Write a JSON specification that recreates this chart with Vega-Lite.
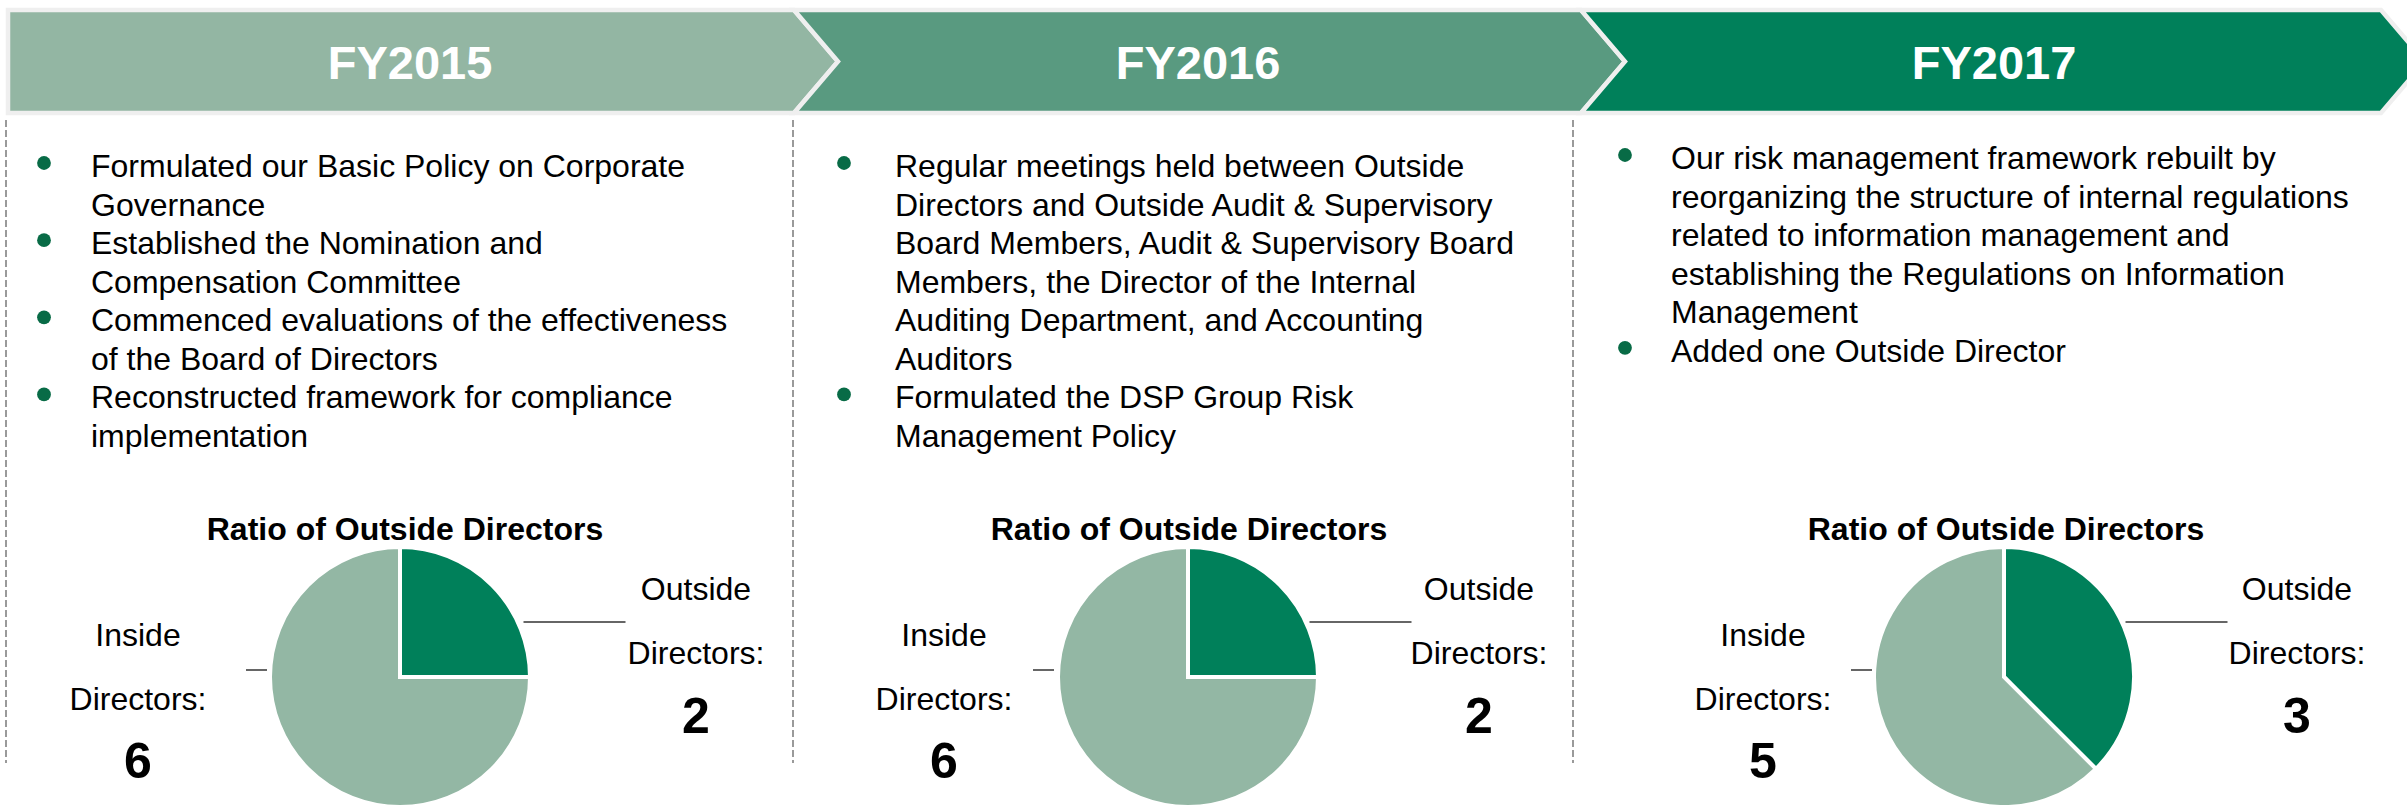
{
  "$schema": "https://vega.github.io/schema/vega-lite/v6.json",
  "width": 2407,
  "height": 805,
  "padding": 0,
  "autosize": {"type": "none"},
  "background": "white",
  "config": {"view": {"stroke": null}, "font": "Liberation Sans"},
  "datasets": {
    "years": [
      {"fy": 2015, "label": "FY2015", "chart": "Ratio of Outside Directors"},
      {"fy": 2016, "label": "FY2016", "chart": "Ratio of Outside Directors"},
      {"fy": 2017, "label": "FY2017", "chart": "Ratio of Outside Directors"}
    ],
    "items": [
      {"fy": 2015, "line": 0, "bullet": true, "text": "Formulated our Basic Policy on Corporate"},
      {"fy": 2015, "line": 1, "bullet": false, "text": "Governance"},
      {"fy": 2015, "line": 2, "bullet": true, "text": "Established the Nomination and"},
      {"fy": 2015, "line": 3, "bullet": false, "text": "Compensation Committee"},
      {"fy": 2015, "line": 4, "bullet": true, "text": "Commenced evaluations of the effectiveness"},
      {"fy": 2015, "line": 5, "bullet": false, "text": "of the Board of Directors"},
      {"fy": 2015, "line": 6, "bullet": true, "text": "Reconstructed framework for compliance"},
      {"fy": 2015, "line": 7, "bullet": false, "text": "implementation"},
      {"fy": 2016, "line": 0, "bullet": true, "text": "Regular meetings held between Outside"},
      {"fy": 2016, "line": 1, "bullet": false, "text": "Directors and Outside Audit & Supervisory"},
      {"fy": 2016, "line": 2, "bullet": false, "text": "Board Members, Audit & Supervisory Board"},
      {"fy": 2016, "line": 3, "bullet": false, "text": "Members, the Director of the Internal"},
      {"fy": 2016, "line": 4, "bullet": false, "text": "Auditing Department, and Accounting"},
      {"fy": 2016, "line": 5, "bullet": false, "text": "Auditors"},
      {"fy": 2016, "line": 6, "bullet": true, "text": "Formulated the DSP Group Risk"},
      {"fy": 2016, "line": 7, "bullet": false, "text": "Management Policy"},
      {"fy": 2017, "line": 0, "bullet": true, "text": "Our risk management framework rebuilt by"},
      {"fy": 2017, "line": 1, "bullet": false, "text": "reorganizing the structure of internal regulations"},
      {"fy": 2017, "line": 2, "bullet": false, "text": "related to information management and"},
      {"fy": 2017, "line": 3, "bullet": false, "text": "establishing the Regulations on Information"},
      {"fy": 2017, "line": 4, "bullet": false, "text": "Management"},
      {"fy": 2017, "line": 5, "bullet": true, "text": "Added one Outside Director"}
    ],
    "board": [
      {"fy": 2015, "group": "Outside Directors", "count": 2},
      {"fy": 2015, "group": "Inside Directors", "count": 6},
      {"fy": 2016, "group": "Outside Directors", "count": 2},
      {"fy": 2016, "group": "Inside Directors", "count": 6},
      {"fy": 2017, "group": "Outside Directors", "count": 3},
      {"fy": 2017, "group": "Inside Directors", "count": 5}
    ],
    "labels": [
      {"fy": 2015, "group": "Outside Directors", "line": 0, "text": "Outside"},
      {"fy": 2015, "group": "Outside Directors", "line": 1, "text": "Directors:"},
      {"fy": 2015, "group": "Inside Directors", "line": 0, "text": "Inside"},
      {"fy": 2015, "group": "Inside Directors", "line": 1, "text": "Directors:"},
      {"fy": 2016, "group": "Outside Directors", "line": 0, "text": "Outside"},
      {"fy": 2016, "group": "Outside Directors", "line": 1, "text": "Directors:"},
      {"fy": 2016, "group": "Inside Directors", "line": 0, "text": "Inside"},
      {"fy": 2016, "group": "Inside Directors", "line": 1, "text": "Directors:"},
      {"fy": 2017, "group": "Outside Directors", "line": 0, "text": "Outside"},
      {"fy": 2017, "group": "Outside Directors", "line": 1, "text": "Directors:"},
      {"fy": 2017, "group": "Inside Directors", "line": 0, "text": "Inside"},
      {"fy": 2017, "group": "Inside Directors", "line": 1, "text": "Directors:"}
    ]
  },
  "layer": [
    {
      "data": {"name": "years"},
      "mark": {"type": "point", "filled": true, "opacity": 1, "size": 10609, "stroke": "#EFEFEF", "strokeWidth": 4.5},
      "encoding": {
        "x": {"field": "fy", "type": "quantitative", "scale": {"domain": [2015, 2016, 2017], "range": [401, 1187.5, 1981], "nice": false, "zero": false}, "axis": null},
        "y": {"field": "fy", "type": "quantitative", "scale": {"domain": [2015, 2017], "range": [61.5, 61.5], "nice": false, "zero": false}, "axis": null},
        "shape": {"field": "fy", "type": "nominal", "scale": {"domain": [2015, 2016, 2017], "range": ["M-7.631,-1L7.631,-1L8.485,0L7.631,1L-7.631,1Z", "M-7.641,-1L7.641,-1L8.495,0L7.641,1L-7.641,1L-6.787,0Z", "M-7.767,-1L7.767,-1L8.621,0L7.767,1L-7.767,1L-6.913,0Z"]}, "legend": null},
        "color": {"field": "fy", "type": "nominal", "scale": {"domain": [2015, 2016, 2017], "range": ["#93B6A3", "#599A80", "#00805A"]}, "legend": null}
      }
    },
    {
      "data": {"name": "years"},
      "mark": {"type": "text", "font": "Liberation Sans", "fontWeight": "bold", "fontSize": 47, "color": "#FFFFFF", "align": "center", "baseline": "alphabetic"},
      "encoding": {
        "x": {"field": "fy", "type": "quantitative", "scale": {"domain": [2015, 2016, 2017], "range": [410, 1198, 1994], "nice": false, "zero": false}, "axis": null},
        "y": {"field": "fy", "type": "quantitative", "scale": {"domain": [2015, 2017], "range": [79, 79], "nice": false, "zero": false}, "axis": null},
        "text": {"field": "label"}
      }
    },
    {
      "data": {"name": "years"},
      "mark": {"type": "point", "filled": false, "opacity": 1, "shape": "M0,-1L0,1", "size": 413449, "color": "#9A9A9A", "strokeWidth": 2, "strokeDash": [7, 3]},
      "encoding": {
        "x": {"field": "fy", "type": "quantitative", "scale": {"domain": [2015, 2016, 2017], "range": [6, 793, 1573], "nice": false, "zero": false}, "axis": null},
        "y": {"field": "fy", "type": "quantitative", "scale": {"domain": [2015, 2017], "range": [441.5, 441.5], "nice": false, "zero": false}, "axis": null}
      }
    },
    {
      "data": {"name": "items"},
      "transform": [{"filter": "datum.fy < 2017"}],
      "mark": {"type": "text", "font": "Liberation Sans", "fontSize": 32, "color": "#000000", "align": "left", "baseline": "alphabetic"},
      "encoding": {
        "x": {"field": "fy", "type": "quantitative", "scale": {"domain": [2015, 2016, 2017], "range": [91, 895, 1671], "nice": false, "zero": false}, "axis": null},
        "y": {"field": "line", "type": "quantitative", "scale": {"domain": [0, 7], "range": [177, 447], "nice": false, "zero": false}, "axis": null},
        "text": {"field": "text"}
      }
    },
    {
      "data": {"name": "items"},
      "transform": [{"filter": "datum.fy == 2017"}],
      "mark": {"type": "text", "font": "Liberation Sans", "fontSize": 32, "color": "#000000", "align": "left", "baseline": "alphabetic"},
      "encoding": {
        "x": {"field": "fy", "type": "quantitative", "scale": {"domain": [2015, 2016, 2017], "range": [91, 895, 1671], "nice": false, "zero": false}, "axis": null},
        "y": {"field": "line", "type": "quantitative", "scale": {"domain": [0, 7], "range": [169, 439], "nice": false, "zero": false}, "axis": null},
        "text": {"field": "text"}
      }
    },
    {
      "data": {"name": "items"},
      "transform": [{"filter": "datum.bullet && datum.fy < 2017"}],
      "mark": {"type": "point", "shape": "circle", "filled": true, "opacity": 1, "size": 190, "color": "#086B46"},
      "encoding": {
        "x": {"field": "fy", "type": "quantitative", "scale": {"domain": [2015, 2016, 2017], "range": [44, 844, 1625], "nice": false, "zero": false}, "axis": null},
        "y": {"field": "line", "type": "quantitative", "scale": {"domain": [0, 7], "range": [163, 433], "nice": false, "zero": false}, "axis": null}
      }
    },
    {
      "data": {"name": "items"},
      "transform": [{"filter": "datum.bullet && datum.fy == 2017"}],
      "mark": {"type": "point", "shape": "circle", "filled": true, "opacity": 1, "size": 190, "color": "#086B46"},
      "encoding": {
        "x": {"field": "fy", "type": "quantitative", "scale": {"domain": [2015, 2016, 2017], "range": [44, 844, 1625], "nice": false, "zero": false}, "axis": null},
        "y": {"field": "line", "type": "quantitative", "scale": {"domain": [0, 7], "range": [155, 425], "nice": false, "zero": false}, "axis": null}
      }
    },
    {
      "data": {"name": "years"},
      "mark": {"type": "text", "font": "Liberation Sans", "fontWeight": "bold", "fontSize": 32, "color": "#000000", "align": "center", "baseline": "alphabetic"},
      "encoding": {
        "x": {"field": "fy", "type": "quantitative", "scale": {"domain": [2015, 2016, 2017], "range": [405, 1189, 2006], "nice": false, "zero": false}, "axis": null},
        "y": {"field": "fy", "type": "quantitative", "scale": {"domain": [2015, 2017], "range": [540, 540], "nice": false, "zero": false}, "axis": null},
        "text": {"field": "chart"}
      }
    },
    {
      "data": {"name": "board"},
      "transform": [{"stack": "count", "groupby": ["fy"], "sort": [{"field": "group", "order": "descending"}], "offset": "normalize", "as": ["t0", "t1"]}],
      "mark": {"type": "arc", "radius": 130, "stroke": "#FFFFFF", "strokeWidth": 4},
      "encoding": {
        "x": {"field": "fy", "type": "quantitative", "scale": {"domain": [2015, 2016, 2017], "range": [400, 1188, 2004], "nice": false, "zero": false}, "axis": null},
        "y": {"field": "fy", "type": "quantitative", "scale": {"domain": [2015, 2017], "range": [677, 677], "nice": false, "zero": false}, "axis": null},
        "theta": {"field": "t0", "type": "quantitative", "scale": {"domain": [0, 1], "range": [0, 6.283185307179586], "nice": false, "zero": false}},
        "theta2": {"field": "t1"},
        "color": {"field": "group", "type": "nominal", "scale": {"domain": ["Outside Directors", "Inside Directors"], "range": ["#00805A", "#93B7A4"]}, "legend": null}
      }
    },
    {
      "data": {"name": "board"},
      "transform": [{"filter": "datum.group == 'Outside Directors'"}],
      "mark": {"type": "point", "filled": false, "opacity": 1, "shape": "M-1,0L1,0", "size": 10404, "color": "#333333", "strokeWidth": 1.5},
      "encoding": {
        "x": {"field": "fy", "type": "quantitative", "scale": {"domain": [2015, 2016, 2017], "range": [574.5, 1360.5, 2176.5], "nice": false, "zero": false}, "axis": null},
        "y": {"field": "fy", "type": "quantitative", "scale": {"domain": [2015, 2017], "range": [622, 622], "nice": false, "zero": false}, "axis": null}
      }
    },
    {
      "data": {"name": "board"},
      "transform": [{"filter": "datum.group == 'Inside Directors'"}],
      "mark": {"type": "point", "filled": false, "opacity": 1, "shape": "M-1,0L1,0", "size": 441, "color": "#333333", "strokeWidth": 1.5},
      "encoding": {
        "x": {"field": "fy", "type": "quantitative", "scale": {"domain": [2015, 2016, 2017], "range": [256.5, 1043.5, 1861.5], "nice": false, "zero": false}, "axis": null},
        "y": {"field": "fy", "type": "quantitative", "scale": {"domain": [2015, 2017], "range": [670, 670], "nice": false, "zero": false}, "axis": null}
      }
    },
    {
      "data": {"name": "labels"},
      "transform": [{"filter": "datum.group == 'Outside Directors'"}],
      "mark": {"type": "text", "font": "Liberation Sans", "fontSize": 32, "color": "#000000", "align": "center", "baseline": "alphabetic"},
      "encoding": {
        "x": {"field": "fy", "type": "quantitative", "scale": {"domain": [2015, 2016, 2017], "range": [696, 1479, 2297], "nice": false, "zero": false}, "axis": null},
        "y": {"field": "line", "type": "quantitative", "scale": {"domain": [0, 1], "range": [600, 664], "nice": false, "zero": false}, "axis": null},
        "text": {"field": "text"}
      }
    },
    {
      "data": {"name": "labels"},
      "transform": [{"filter": "datum.group == 'Inside Directors'"}],
      "mark": {"type": "text", "font": "Liberation Sans", "fontSize": 32, "color": "#000000", "align": "center", "baseline": "alphabetic"},
      "encoding": {
        "x": {"field": "fy", "type": "quantitative", "scale": {"domain": [2015, 2016, 2017], "range": [138, 944, 1763], "nice": false, "zero": false}, "axis": null},
        "y": {"field": "line", "type": "quantitative", "scale": {"domain": [0, 1], "range": [646, 710], "nice": false, "zero": false}, "axis": null},
        "text": {"field": "text"}
      }
    },
    {
      "data": {"name": "board"},
      "transform": [{"filter": "datum.group == 'Outside Directors'"}],
      "mark": {"type": "text", "font": "Liberation Sans", "fontWeight": "bold", "fontSize": 50, "color": "#000000", "align": "center", "baseline": "alphabetic"},
      "encoding": {
        "x": {"field": "fy", "type": "quantitative", "scale": {"domain": [2015, 2016, 2017], "range": [696, 1479, 2297], "nice": false, "zero": false}, "axis": null},
        "y": {"field": "fy", "type": "quantitative", "scale": {"domain": [2015, 2017], "range": [733, 733], "nice": false, "zero": false}, "axis": null},
        "text": {"field": "count", "type": "nominal"}
      }
    },
    {
      "data": {"name": "board"},
      "transform": [{"filter": "datum.group == 'Inside Directors'"}],
      "mark": {"type": "text", "font": "Liberation Sans", "fontWeight": "bold", "fontSize": 50, "color": "#000000", "align": "center", "baseline": "alphabetic"},
      "encoding": {
        "x": {"field": "fy", "type": "quantitative", "scale": {"domain": [2015, 2016, 2017], "range": [138, 944, 1763], "nice": false, "zero": false}, "axis": null},
        "y": {"field": "fy", "type": "quantitative", "scale": {"domain": [2015, 2017], "range": [778, 778], "nice": false, "zero": false}, "axis": null},
        "text": {"field": "count", "type": "nominal"}
      }
    }
  ],
  "resolve": {"scale": {"x": "independent", "y": "independent", "color": "independent", "shape": "independent", "theta": "independent"}}
}
